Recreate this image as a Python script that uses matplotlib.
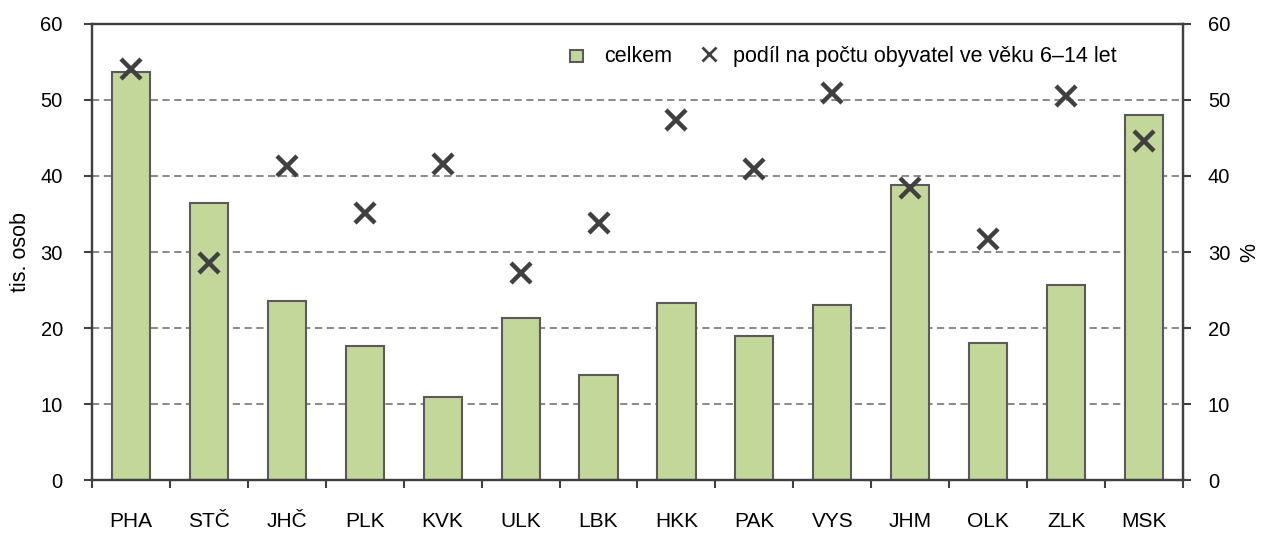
import matplotlib.pyplot as plt
import numpy as np

plt.rcParams['font.family'] = ['Liberation Sans', 'DejaVu Sans']

# kraje
regions = ['PHA', 'STČ', 'JHČ', 'PLK', 'KVK', 'ULK', 'LBK',
           'HKK', 'PAK', 'VYS', 'JHM', 'OLK', 'ZLK', 'MSK']
# celkem (tis. osob)
total = [53.6, 36.5, 23.6, 17.7, 11.0, 21.3, 13.8,
         23.3, 19.0, 23.1, 38.8, 18.0, 25.7, 48.0]
# podíl na počtu obyvatel ve věku 6–14 let (%)
share = [54.1, 28.5, 41.3, 35.1, 41.6, 27.2, 33.8,
         47.3, 40.9, 50.9, 38.4, 31.7, 50.5, 44.6]

DARK = '#404040'
GREEN = '#C4D79B'

fig = plt.figure(figsize=(12.62, 5.33), dpi=100)
ax = fig.add_axes([0.0729, 0.0989, 0.8645, 0.8566])
ax2 = ax.twinx()

x = np.arange(len(regions))
bars = ax.bar(x, total, width=0.49, color=GREEN, edgecolor='#5a5a5a', linewidth=1.5,
              label='celkem', zorder=2)
pts, = ax2.plot(x, share, linestyle='none', marker='x', markersize=15,
                markeredgewidth=3.2, color=DARK, label='podíl na počtu obyvatel ve věku 6–14 let')

ax.set_xlim(-0.5, len(regions) - 0.5)
ax.set_ylim(0, 60)
ax2.set_ylim(0, 60)
ax.set_yticks(range(0, 61, 10))
ax2.set_yticks(range(0, 61, 10))

ax.set_axisbelow(True)
for v in range(10, 60, 10):
    ax.axhline(v, color='#808080', linestyle=(0, (4, 2.5)), linewidth=1.3, zorder=0)

ax.set_xticks(x)
ax.set_xticklabels(regions)
ax.set_xticks(np.arange(-0.5, len(regions), 1), minor=True)
ax.tick_params(axis='x', which='major', length=0, pad=23, labelsize=15)
ax.tick_params(axis='x', which='minor', length=6, width=1.5, color=DARK)
ax.tick_params(axis='y', length=6, width=1.5, color=DARK, pad=15, labelsize=14.5)
ax2.tick_params(axis='y', length=6, width=1.5, color=DARK, pad=12, labelsize=14.5)

for a in (ax, ax2):
    for s in a.spines.values():
        s.set_color(DARK)
        s.set_linewidth(1.6)

ax.set_ylabel('tis. osob', fontsize=15.5)
ax.yaxis.set_label_coords(-0.056, 0.5)
ax2.set_ylabel('%', fontsize=15.5)
ax2.yaxis.set_label_coords(1.052, 0.5)

leg = ax.legend([bars, pts], [bars.get_label(), pts.get_label()], ncol=2, frameon=False,
                loc='upper right', bbox_to_anchor=(0.9, 0.95), bbox_transform=fig.transFigure,
                fontsize=15.5, handlelength=1.0, handletextpad=0.6, columnspacing=1.2,
                markerscale=0.7)
leg.legend_handles[0].set_height(9)
leg.legend_handles[0].set_width(9)
leg.legend_handles[1].set_markeredgewidth(2)
leg.set_zorder(5)

fig.savefig('out.png', dpi=100)
